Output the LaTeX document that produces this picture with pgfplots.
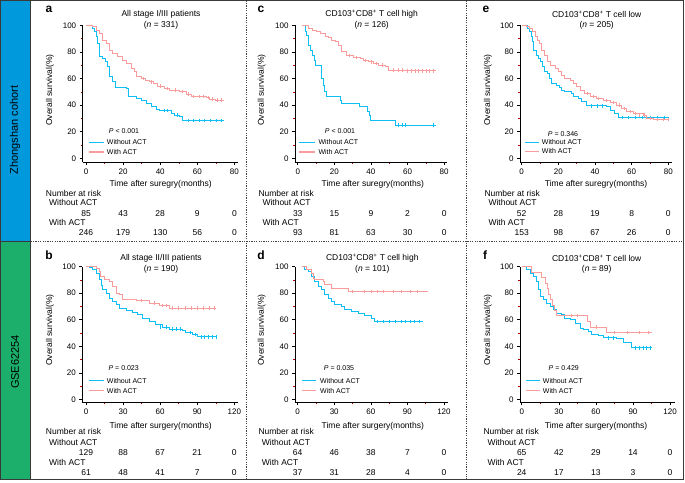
\documentclass[border=0pt]{standalone}
\usepackage{fontspec}
\setmainfont{Liberation Sans}
\usepackage{pgfplots}
\pgfplotsset{compat=1.18}

\definecolor{noact}{HTML}{0FBEF5}
\definecolor{act}{HTML}{F89C9C}
\definecolor{zsblue}{HTML}{0099DC}
\definecolor{gsegreen}{HTML}{1BAF6B}
\definecolor{frame}{HTML}{3A3A3A}

\newcommand\fs{\fontsize{8.5}{10}\selectfont}
\newcommand\fsm{\fontsize{7}{8}\selectfont}

% km curves: shared look of the six panels
\pgfplotsset{
  km/.style={scale only axis, anchor=south west,
    axis x line*=bottom, axis y line*=left, ymax=100,
    ytick={0,20,...,100}, minor x tick num=1, minor y tick num=1,
    tick align=outside, major tick length=3pt, minor tick length=2pt,
    tick style={black, line width=0.6pt},
    minor tick style={red!70!black, line width=0.5pt},
    axis line style={line width=0.8pt},
    tick label style={font=\fontsize{8}{9}\selectfont},
    /pgf/number format/assume math mode=true,
    clip=false,
    every axis plot/.append style={const plot, line width=1pt}},
  top/.style={km, ymin=-2.8, height=136.7pt, xtick={0,20,...,80}},
  bot/.style={km, ymin=-2.1, height=135.8pt, xtick={0,30,...,120}},
  cens/.style={only marks, mark=|, mark size=1.7pt, mark options={line width=0.5pt}},
}
\newcommand\riskTop[6]{%
  \node[font=\fs] at (axis cs:0,#1) {#2};
  \node[font=\fs] at (axis cs:20,#1) {#3};
  \node[font=\fs] at (axis cs:40,#1) {#4};
  \node[font=\fs] at (axis cs:60,#1) {#5};
  \node[font=\fs] at (axis cs:80,#1) {#6};}
\newcommand\riskBot[6]{%
  \node[font=\fs] at (axis cs:0,#1) {#2};
  \node[font=\fs] at (axis cs:30,#1) {#3};
  \node[font=\fs] at (axis cs:60,#1) {#4};
  \node[font=\fs] at (axis cs:90,#1) {#5};
  \node[font=\fs] at (axis cs:120,#1) {#6};}
% legend key: x start, x end, text x, y without, y with
\newcommand\kmkey[5]{%
  \fill[noact] (#1,#4-0.7) rectangle (#2,#4+0.7);
  \fill[act] (#1,#5-0.7) rectangle (#2,#5+0.7);
  \node[font=\fsm, anchor=west, inner sep=0pt] at (#3,#4) {Without ACT};
  \node[font=\fsm, anchor=west, inner sep=0pt] at (#3,#5) {With ACT};}

\begin{document}
\begin{tikzpicture}[x=1pt,y=1pt]
\path[use as bounding box] (0,0) rectangle (685,482);
\fill[zsblue] (0.5,241) rectangle (30.5,481.5);
\fill[gsegreen] (0.5,2.5) rectangle (30.5,241);
\node[rotate=90, font=\fontsize{11}{13}\selectfont] at (15,352) {Zhongshan cohort};
\node[rotate=90, font=\fontsize{11}{13}\selectfont] at (15,120) {GSE62254};

% ---------------- a ----------------
\begin{axis}[top, at={(82.7pt,320pt)}, xmin=-1.8, xmax=82, width=155.4pt]
\addplot[noact] coordinates {(0,100) (3.6,97.5) (4.5,95) (5.4,91.25) (6.3,86.25) (7.2,76.25) (9,75) (10.4,72.5) (11.7,68.75) (12.6,61.25) (14.4,57.5) (15.8,53.25) (21.6,52.5) (23,46.25) (27,45) (29.7,43.75) (32.4,41.25) (35.1,38.75) (37.8,37) (39.6,35.75) (45.9,33.75) (47.7,32.5) (50.4,31.25) (52.2,28.25) (74.6,28.25)};
\addplot[act] coordinates {(0,100) (3.6,98.75) (5.4,96.25) (7.2,93.75) (9,88.75) (10.8,86.25) (12.6,81.25) (14.4,78.75) (17.1,76.25) (19.8,73.75) (21.6,71.25) (24.3,67.5) (26.1,65) (27,61.25) (29.7,60) (32,58.7) (34.2,57.5) (36.5,56) (38.7,54.25) (42.3,52.5) (45,51.25) (50.4,50) (54,48.25) (56.7,46.25) (64.7,45.75) (66.5,44.5) (70,43.75) (74.6,43.75)};
\addplot[noact, cens] coordinates {(42,35.75) (44,35.75) (49,32.5) (55,28.25) (58,28.25) (61,28.25) (64,28.25) (67,28.25) (70,28.25) (73,28.25)};
\addplot[act, cens] coordinates {(31,60) (35,57.5) (40,54.25) (44,52.5) (48,51.25) (52,50) (55,48.25) (58,46.25) (61,46.25) (63,46.25) (66,45.75) (68,44.5) (71,43.75) (73,43.75)};
\riskTop{-41.4}{85}{43}{28}{9}{0}
\riskTop{-55.6}{246}{179}{130}{56}{0}
\end{axis}

% ---------------- c ----------------
\begin{axis}[top, at={(295pt,320pt)}, xmin=-1.5, xmax=81.4, width=151.7pt]
\addplot[noact] coordinates {(2.5,100) (4,95) (4.9,92.5) (5.8,85) (6.7,81.25) (8,77.5) (8.9,73.75) (9.8,70) (13.1,60) (13.8,55) (14.6,50) (15.8,46.75) (23.1,43.75) (23.7,41.25) (33.5,38.75) (38.1,35) (39,32.5) (39.7,28.75) (53.2,25) (75.6,25)};
\addplot[act] coordinates {(2.5,100) (5.8,97.5) (8,96.25) (10.4,95) (12.2,93.75) (14.9,91.75) (16.8,90.75) (18.6,88.75) (20.4,87.5) (22.2,85) (24,80) (26.8,77.5) (30.4,75.75) (34.1,75) (35.9,73.75) (38.6,72.5) (41.3,71.25) (44.1,70) (47.7,68.75) (49.5,66.25) (58.7,65.75) (75.6,65.75)};
\addplot[noact, cens] coordinates {(55,25) (57,25) (59,25) (74,25)};
\addplot[act, cens] coordinates {(28,77.5) (32,75.75) (37,73.75) (40,72.5) (43,71.25) (46,70) (52,66.25) (55,66.25) (57,66.25) (60,65.75) (62,65.75) (64,65.75) (66,65.75) (68,65.75) (70,65.75) (72,65.75) (74,65.75)};
\riskTop{-41.4}{33}{15}{9}{2}{0}
\riskTop{-55.6}{93}{81}{63}{30}{0}
\end{axis}

% ---------------- e ----------------
\begin{axis}[top, at={(520pt,320pt)}, xmin=-0.9, xmax=81.9, width=151.8pt]
\addplot[noact] coordinates {(0,100) (3.1,97.5) (4.2,95) (5.1,91.25) (6,87.5) (6.7,81.25) (8.2,77.5) (9.1,75) (10.4,72.5) (11.5,68.75) (12.7,65) (14,63.75) (15.1,60) (16.4,56.25) (19.1,55) (20.5,53.25) (21.8,51.25) (23.6,50) (27.3,48.75) (28.5,46.25) (30.9,45) (32.7,42.5) (35.5,40) (46.4,39.25) (48.2,36.25) (50.9,33.75) (52.7,30.75) (80.5,30.75)};
\addplot[act] coordinates {(0,100) (2.4,98.75) (4.5,97.5) (6,95) (7.3,91.25) (8.5,88.75) (9.6,86.25) (10.9,81.25) (12.7,77.5) (14,72.5) (15.5,70) (18.2,67.5) (20,65) (21.8,62.5) (23.6,60) (26.4,58.75) (28.2,56.25) (30,53.75) (32.2,51.25) (34.5,48.75) (37.3,46.25) (40.9,45) (44.5,43.25) (48.2,41.75) (51.8,40) (54.5,37.5) (57.3,35) (60.9,33.75) (66.4,32.5) (68.2,30) (72,29) (80.5,29)};
\addplot[noact, cens] coordinates {(38,39.25) (41,39.25) (44,39.25) (55,30.75) (58,30.75) (62,30.75) (66,30.75) (70,30.75) (74,30.75) (78,30.75)};
\addplot[act, cens] coordinates {(36,48.75) (39,46.25) (42,45) (46,43.25) (50,41.75) (53,40) (56,37.5) (59,35) (62,33.75) (64,32.5) (67,32.5) (70,30) (74,29) (77,29) (80,29)};
\riskTop{-41.4}{52}{28}{19}{8}{0}
\riskTop{-55.6}{153}{98}{67}{26}{0}
\end{axis}

% ---------------- b ----------------
\begin{axis}[bot, at={(82.3pt,79.7pt)}, xmin=-3, xmax=123, width=155.7pt]
\addplot[noact] coordinates {(0,100) (2.7,99.5) (5.4,98) (8.1,95) (10.8,90) (12.2,86) (13.5,82.5) (16.2,80) (18.9,76.25) (21.6,73.75) (24.3,71.25) (27,68.75) (32.4,67) (37.8,65.5) (41.8,63.75) (45.8,61.25) (51.2,58.75) (56.6,56.25) (62,54.5) (67.4,53) (78.2,52) (80.9,50.5) (86.3,48.75) (90.3,47) (105.2,47)};
\addplot[act] coordinates {(0,100) (8.1,98.75) (10.8,96.25) (12.1,92.5) (14.8,90) (18.9,88.75) (21.6,85) (24.3,80) (27,78.75) (29.7,75.5) (40.5,74.5) (51.2,72.5) (59.3,70.5) (67.4,68.75) (105.2,68.75)};
\addplot[noact, cens] coordinates {(60,54.5) (65,54.5) (70,53) (73,53) (76,53) (84,50.5) (88,48.75) (93,47) (96,47) (99,47) (102,47) (105,47)};
\addplot[act, cens] coordinates {(45,74.5) (55,72.5) (62,70.5) (65,70.5) (70,68.75) (75,68.75) (80,68.75) (85,68.75) (90,68.75) (95,68.75) (100,68.75) (104,68.75)};
\riskBot{-40}{129}{88}{67}{21}{0}
\riskBot{-55}{61}{48}{41}{7}{0}
\end{axis}

% ---------------- d ----------------
\begin{axis}[bot, at={(295pt,79.7pt)}, xmin=-2.2, xmax=123, width=152.6pt]
\addplot[noact] coordinates {(3.5,100) (6,98) (8.7,96.25) (11.5,92.5) (14.2,88.75) (16.9,85) (19.7,82.5) (22.4,78.75) (25.2,76.25) (27.9,73.75) (30.6,71.25) (36.1,70) (38.8,67.5) (44.3,66.25) (49.8,64.5) (55.2,63) (60.7,61.25) (63.4,58.75) (102.5,58.75)};
\addplot[act] coordinates {(3.5,100) (7.4,97.5) (11.5,95) (12.8,91.25) (14.2,90) (21,88.75) (22.4,86.25) (27.9,83.75) (41.6,81.25) (107,81.25)};
\addplot[noact, cens] coordinates {(65,58.75) (70,58.75) (75,58.75) (80,58.75) (85,58.75) (88,58.75) (92,58.75) (96,58.75) (100,58.75)};
\addplot[act, cens] coordinates {(45,81.25) (55,81.25) (60,81.25) (65,81.25) (70,81.25) (78,81.25) (85,81.25) (92,81.25) (98,81.25)};
\riskBot{-40}{64}{46}{38}{7}{0}
\riskBot{-55}{37}{31}{28}{4}{0}
\end{axis}

% ---------------- f ----------------
\begin{axis}[bot, at={(520pt,79.7pt)}, xmin=-1.4, xmax=124, width=155pt]
\addplot[noact] coordinates {(0,100) (4,97.5) (6.7,95) (9.4,92.5) (11.6,88.75) (13.5,82.5) (14.8,77.5) (17.5,75) (20.2,72.5) (22.9,70) (25.6,67.5) (28.3,65) (32.4,63.75) (35,61.25) (39.1,60) (43.1,57.5) (47.2,53.75) (49.9,52.5) (53.9,51.25) (56.6,48.75) (62,48) (66.1,46.25) (76.9,45.5) (82.3,42.5) (89,38.75) (105.2,38.75)};
\addplot[act] coordinates {(0,100) (8.1,95.8) (16.2,91.7) (18.9,87.5) (20.5,83.3) (21.6,79.2) (23.5,75) (24.8,70.8) (26.5,66.7) (28.3,63) (53,58.8) (55.5,54.5) (68.5,50.5) (105.2,50.5)};
\addplot[noact, cens] coordinates {(70,46.25) (74,46.25) (92,38.75) (95,38.75) (98,38.75) (101,38.75) (104,38.75)};
\addplot[act, cens] coordinates {(40,63) (45,63) (60,54.5) (75,50.5) (85,50.5) (95,50.5) (102,50.5)};
\riskBot{-40}{65}{42}{29}{14}{0}
\riskBot{-55}{24}{17}{13}{3}{0}
\end{axis}

% ---------------- panel texts ----------------
\begin{scope}[every node/.style={inner sep=0pt}]
% letters
\node[font=\fontsize{12}{14}\selectfont\bfseries] at (49,472.7) {a};
\node[font=\fontsize{12}{14}\selectfont\bfseries] at (261,472.7) {c};
\node[font=\fontsize{12}{14}\selectfont\bfseries] at (486,472.7) {e};
\node[font=\fontsize{12}{14}\selectfont\bfseries] at (49,227) {b};
\node[font=\fontsize{12}{14}\selectfont\bfseries] at (261,227) {d};
\node[font=\fontsize{12}{14}\selectfont\bfseries] at (485,227) {f};
% titles
\node[font=\fs] at (161,467.7) {All stage I/III patients};
\node[font=\fs] at (161,457) {(\textit{n} = 331)};
\node[font=\fs] at (371.7,467.7) {CD103\textsuperscript{+}CD8\textsuperscript{+} T cell high};
\node[font=\fs] at (371.7,457) {(\textit{n} = 126)};
\node[font=\fs] at (596.7,467.7) {CD103\textsuperscript{+}CD8\textsuperscript{+} T cell low};
\node[font=\fs] at (596.7,457) {(\textit{n} = 205)};
\node[font=\fs] at (161,223.7) {All stage II/III patients};
\node[font=\fs] at (161,212.7) {(\textit{n} = 190)};
\node[font=\fs] at (372.3,223.7) {CD103\textsuperscript{+}CD8\textsuperscript{+} T cell high};
\node[font=\fs] at (372.3,212.7) {(\textit{n} = 101)};
\node[font=\fs] at (596.7,223.7) {CD103\textsuperscript{+}CD8\textsuperscript{+} T cell low};
\node[font=\fs] at (596.7,212.7) {(\textit{n} = 89)};
% y labels
\foreach \x in {50,261.7,488} {
  \node[font=\fs, rotate=90] at (\x,392) {Overall survival(\%)};
  \node[font=\fs, rotate=90] at (\x,152) {Overall survival(\%)};
}
% x labels
\node[font=\fs] at (160.7,297.7) {Time after suregry(months)};
\node[font=\fs] at (372.8,297.7) {Time after suregry(months)};
\node[font=\fs] at (596,297.7) {Time after suregry(months)};
\node[font=\fs] at (160.7,55.3) {Time after surgery(months)};
\node[font=\fs] at (372.8,55.3) {Time after surgery(months)};
\node[font=\fs] at (596,55.3) {Time after surgery(months)};
% p values
\node[font=\fsm] at (124,351) {\textit{P} < 0.001};
\node[font=\fsm] at (340,351) {\textit{P} < 0.001};
\node[font=\fsm] at (563,348) {\textit{P} = 0.346};
\node[font=\fsm] at (123.7,114) {\textit{P} = 0.023};
\node[font=\fsm] at (339,114) {\textit{P} = 0.035};
\node[font=\fsm] at (563.8,114) {\textit{P} = 0.429};
% legends
\kmkey{89}{104}{106.7}{339.5}{330}
\kmkey{299}{315}{318.3}{339.5}{330}
\kmkey{525}{539}{541.7}{339.5}{330.5}
\kmkey{89}{104}{106.7}{101.5}{91.5}
\kmkey{302.3}{315.7}{320}{101.5}{91.5}
\kmkey{526}{540}{542.7}{101.5}{91.5}
% risk table heads
\foreach \xn/\xw/\yn/\yw/\yv in {45.7/49/288.7/279.3/259.7, 258.3/262.3/288.7/279.3/259.7, 484.3/488.3/288.7/279.3/259.7,
    45.7/49/50.3/39.7/19.3, 258.3/261.7/50.3/39.7/19.3, 483.3/487.3/50.3/39.7/19.3} {
  \node[font=\fs, anchor=west] at (\xn,\yn) {Number at risk};
  \node[font=\fs, anchor=west] at (\xw,\yw) {Without ACT};
  \node[font=\fs, anchor=west] at (\xw,\yv) {With ACT};
}
\end{scope}

% frame and separators
\draw[frame, line width=0.8pt] (0.5,2.5) rectangle (683.5,481.5);
\draw[frame, line width=0.8pt] (30.5,2.5) -- (30.5,481.5);
\draw[frame, line width=0.6pt] (0.5,241) -- (30.5,241);
\draw[gray!50!black, line width=0.7pt, dash pattern=on 1.2pt off 1.2pt] (30.5,240.5) -- (683.5,240.5);
\draw[gray!50!black, line width=0.7pt, dash pattern=on 1.2pt off 1.2pt] (246.5,2.5) -- (246.5,481.5);
\draw[gray!50!black, line width=0.7pt, dash pattern=on 1.2pt off 1.2pt] (466.7,2.5) -- (466.7,481.5);
\end{tikzpicture}
\end{document}
